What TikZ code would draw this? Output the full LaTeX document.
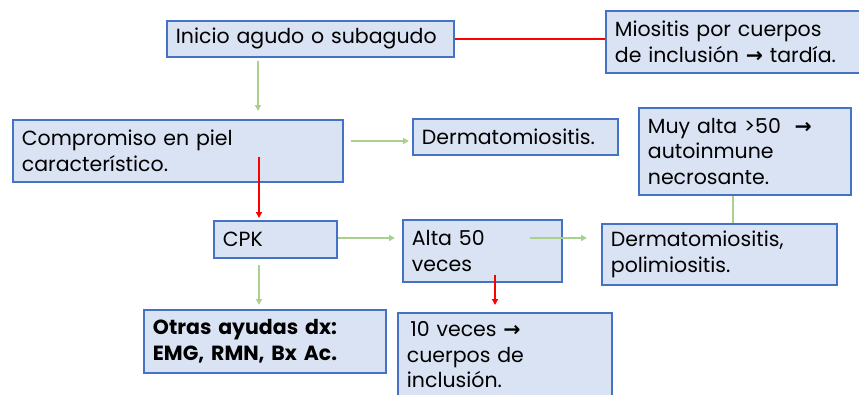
\documentclass[tikz,border=0pt]{standalone}
\usepackage{fontspec}
\setmainfont{Poppins}
\newfontfamily\symfont{DejaVu Sans}[BoldFont={DejaVu Sans Bold}]
\usepackage{xcolor}
\usetikzlibrary{arrows.meta,positioning,calc}
\definecolor{Bfill}{RGB}{218,227,243}
\definecolor{Bline}{RGB}{68,114,196}
\definecolor{Agreen}{RGB}{169,209,142}
\definecolor{Ared}{RGB}{255,0,0}
\newcommand{\flecha}{{\symfont\bfseries\char"2192}}
\tikzset{
  infobox/.style={draw=Bline, fill=Bfill, line width=1.8pt, anchor=north west,
    align=left, inner xsep=9pt, inner ysep=2pt, font=\fontsize{20.5}{25.5}\selectfont},
  greenflow/.style={-{Triangle[length=6pt,width=6pt]}, draw=Agreen, fill=Agreen, line width=1.8pt},
  redflow/.style={-{Triangle[length=6pt,width=6pt]}, draw=Ared, fill=Ared, line width=1.8pt},
  greenline/.style={draw=Agreen, line width=1.8pt},
  redline/.style={draw=Ared, line width=1.8pt}
}
\begin{document}
\begin{tikzpicture}[x=1pt, y=-1pt]
  \useasboundingbox (0,0) rectangle (859,394);
  % boxes
  \node[infobox, text width=269pt, minimum height=36pt] (inicio) at (166,20) {Inicio agudo o subagudo};
  \node[infobox, text width=240pt, minimum height=62pt] (miositis) at (605,10) {Miositis por cuerpos\\de inclusión \flecha{} tardía.};
  \node[infobox, text width=312pt, minimum height=62pt] (piel) at (12,119) {Compromiso en piel\\característico.};
  \node[infobox, text width=187pt, minimum height=36pt] (dermato) at (412,118) {Dermatomiositis.};
  \node[infobox, text width=194pt, minimum height=87pt] (muyalta) at (638,107) {Muy alta >50 \ \flecha\\autoinmune\\necrosante.};
  \node[infobox, text width=105pt, minimum height=37pt] (cpk) at (213,220) {CPK};
  \node[infobox, text width=141pt, minimum height=62pt] (alta) at (402,219) {Alta 50\\veces};
  \node[infobox, text width=217pt, minimum height=61pt] (dmpm) at (601,223) {Dermatomiositis,\\polimiositis.};
  \node[infobox, text width=224pt, minimum height=63pt, font=\fontsize{20.5}{25.5}\selectfont\bfseries] (otras) at (143,309) {Otras ayudas dx:\\EMG, RMN, Bx Ac.};
  \node[infobox, text width=196pt, minimum height=84pt] (diez) at (397,312) {\,10 veces \flecha\\cuerpos de\\inclusión.};
  % connectors
  \draw[redline] (inicio.east) -- (inicio.east -| miositis.west);
  \draw[greenflow, shorten <=3pt, shorten >=8pt] (inicio.south -| 258,0) -- (piel.north -| 258,0);
  \draw[greenflow, shorten <=7pt, shorten >=3pt] (piel.east |- 0,141) -- (dermato.west |- 0,141);
  \draw[redflow, shorten >=2pt] (piel.south -| 259,0) ++(0,-26) -- (cpk.north -| 259,0);
  \draw[greenflow, shorten >=7pt] (cpk.east |- 0,238) -- (alta.west |- 0,238);
  \draw[greenflow, shorten >=14pt] (alta.east |- 0,238) ++(-33,0) -- (dmpm.west |- 0,238);
  \draw[greenline] (muyalta.south -| 733,0) -- (dmpm.north -| 733,0);
  \draw[greenflow, shorten <=6pt, shorten >=4pt] (cpk.south -| 259,0) -- (otras.north -| 259,0);
  \draw[redflow, shorten >=7pt] (alta.south -| 495,0) ++(0,-8) -- (diez.north -| 495,0);
\end{tikzpicture}
\end{document}
